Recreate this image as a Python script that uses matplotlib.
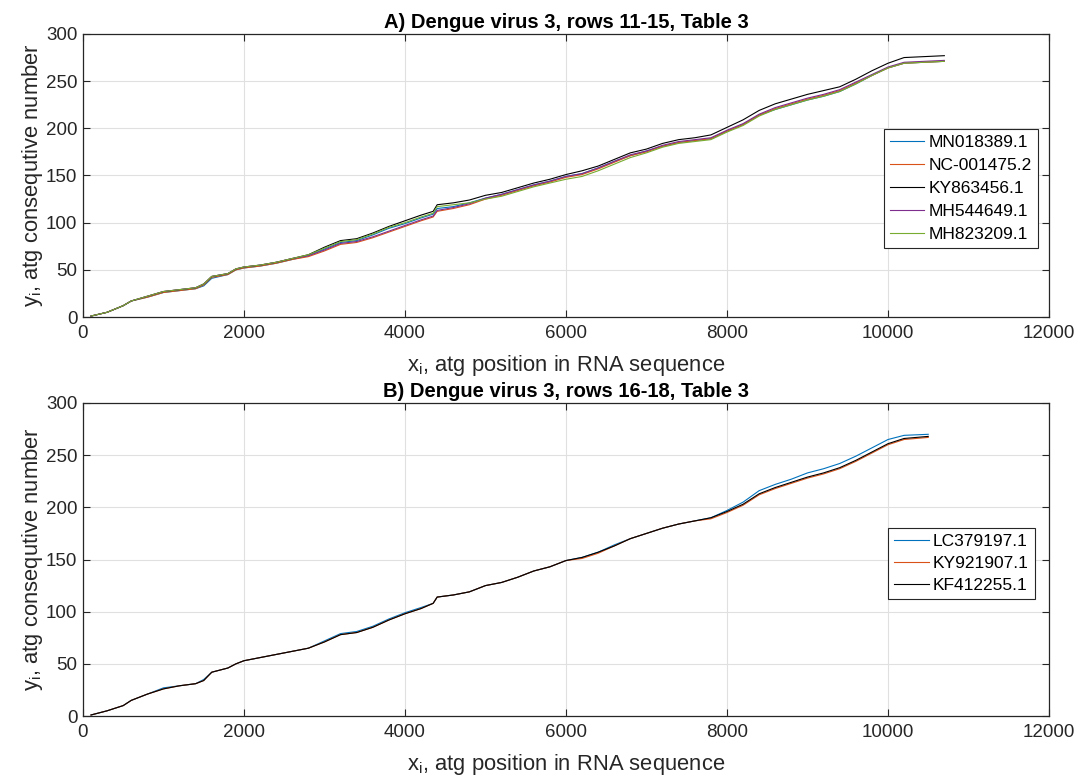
import matplotlib
matplotlib.use("Agg")
import matplotlib.pyplot as plt

plt.rcParams['font.family'] = ['Liberation Sans', 'DejaVu Sans']

# ---------------- Panel A data (knots) ----------------
xa = [100, 300, 500, 600, 800, 1000, 1200, 1400, 1500, 1600, 1800, 1900, 2000,
      2200, 2400, 2600, 2800, 3000, 3200, 3400, 3600, 3800, 4000, 4200, 4350,
      4400, 4600, 4800, 5000, 5200, 5400, 5600, 5800, 6000, 6200, 6400, 6600,
      6800, 7000, 7200, 7400, 7600, 7800, 8000, 8200, 8400, 8600, 8800, 9000,
      9200, 9400, 9600, 9800, 10000, 10200, 10700]
mn018389 = [1, 5, 12, 17, 21, 26, 28, 30, 33, 41, 45, 50, 52, 54, 57, 61, 65, 72,
            79, 81, 87, 94, 99, 105, 109, 115, 117, 121, 126, 130, 135, 140, 144,
            149, 152, 158, 165, 171, 176, 181, 185, 187, 189, 197, 204, 214, 220,
            225, 230, 234, 239, 247, 256, 264, 269, 271]
nc001475 = [1, 5, 12, 17, 21, 26, 28, 30, 34, 42, 45, 50, 52, 54, 57, 61, 64, 70,
            77, 79, 84, 90, 96, 102, 106, 112, 115, 119, 125, 129, 134, 139, 143,
            148, 151, 157, 164, 171, 175, 181, 185, 187, 189, 197, 204, 214, 221,
            226, 231, 235, 240, 248, 256, 264, 269, 271]
ky863456 = [1, 5, 12, 17, 22, 27, 29, 31, 35, 43, 46, 51, 53, 55, 58, 62, 66, 74,
            81, 83, 89, 96, 102, 108, 112, 119, 121, 124, 129, 132, 137, 142, 146,
            151, 155, 160, 167, 174, 178, 184, 188, 190, 193, 201, 209, 219, 226,
            231, 236, 240, 244, 252, 261, 269, 275, 277]
mh544649 = [1, 5, 12, 17, 22, 27, 29, 31, 35, 43, 46, 51, 53, 55, 58, 62, 65, 71,
            78, 80, 85, 91, 97, 103, 107, 113, 116, 120, 126, 130, 135, 140, 144,
            149, 152, 158, 165, 172, 176, 182, 186, 188, 190, 198, 205, 215, 222,
            227, 232, 236, 241, 249, 257, 265, 270, 272]
mh823209 = [1, 5, 12, 17, 22, 27, 29, 31, 35, 43, 46, 51, 53, 55, 58, 62, 66, 73,
            80, 82, 88, 95, 100, 106, 110, 117, 119, 121, 125, 128, 133, 138, 142,
            146, 149, 155, 162, 169, 174, 180, 184, 186, 188, 196, 203, 213, 220,
            225, 230, 234, 239, 247, 256, 264, 269, 271]

# ---------------- Panel B data ----------------
xb = [100, 300, 500, 600, 800, 1000, 1200, 1400, 1500, 1600, 1800, 1900, 2000,
      2200, 2400, 2600, 2800, 3000, 3200, 3400, 3600, 3800, 4000, 4200, 4350,
      4400, 4600, 4800, 5000, 5200, 5400, 5600, 5800, 6000, 6200, 6400, 6600,
      6800, 7000, 7200, 7400, 7600, 7800, 8000, 8200, 8400, 8600, 8800, 9000,
      9200, 9400, 9600, 9800, 10000, 10200, 10500]
lc379197 = [1, 5, 10, 15, 21, 27, 29, 31, 35, 42, 46, 50, 53, 56, 59, 62, 65, 72,
            79, 81, 86, 93, 99, 104, 108, 114, 116, 119, 125, 128, 133, 139, 143,
            149, 152, 157, 164, 170, 175, 180, 184, 187, 190, 197, 205, 216, 222,
            227, 233, 237, 242, 249, 257, 265, 269, 270]
ky921907 = [1, 5, 10, 15, 21, 26, 29, 31, 34, 42, 46, 50, 53, 56, 59, 62, 65, 71,
            78, 80, 85, 92, 98, 103, 108, 114, 116, 119, 125, 128, 133, 139, 143,
            149, 151, 156, 163, 170, 175, 180, 184, 187, 189, 195, 202, 212, 218,
            223, 228, 232, 237, 244, 252, 260, 265, 267]
kf412255 = [1, 5, 10, 15, 21, 26, 29, 31, 34, 42, 46, 50, 53, 56, 59, 62, 65, 71,
            78, 80, 85, 92, 98, 103, 108, 114, 116, 119, 125, 128, 133, 139, 143,
            149, 152, 157, 163, 170, 175, 180, 184, 187, 190, 196, 203, 213, 219,
            224, 229, 233, 238, 245, 253, 261, 266, 268]

labels_a = ['MN018389.1', 'NC-001475.2', 'KY863456.1', 'MH544649.1', 'MH823209.1']
labels_b = ['LC379197.1', 'KY921907.1', 'KF412255.1']
colors_a = ['#0072BD', '#D95319', '#000000', '#7E2F8E', '#77AC30']
colors_b = ['#0072BD', '#D95319', '#000000']

titles = ['A) Dengue virus 3, rows 11-15, Table 3',
          'B) Dengue virus 3, rows 16-18, Table 3']
xticks = [0, 2000, 4000, 6000, 8000, 10000, 12000]
yticks = [0, 50, 100, 150, 200, 250, 300]

fig = plt.figure(figsize=(10.83, 7.81), dpi=100)
axA = fig.add_axes([0.0766, 0.5941, 0.892, 0.3624])
axB = fig.add_axes([0.0766, 0.0832, 0.892, 0.4008])

def style(ax, title):
    ax.set_xlim(0, 12000)
    ax.set_ylim(0, 300)
    ax.set_xticks(xticks)
    ax.set_yticks(yticks)
    ax.grid(True, color='#e0e0e0', linewidth=0.8)
    ax.set_axisbelow(True)
    ax.tick_params(direction='in', top=True, right=True, length=5, pad=4,
                   labelsize=13.5, color='#262626', labelcolor='#262626', width=0.8)
    ax.tick_params(axis='x', pad=6)
    for s in ax.spines.values():
        s.set_color('#262626')
        s.set_linewidth(0.9)
    ax.set_title(title, fontsize=14.5, fontweight='bold', pad=4, color='#000000')
    ax.set_xlabel(r'x$_\mathregular{i}$, atg position in RNA sequence',
                  fontsize=15.8, color='#262626', labelpad=8)
    ax.set_ylabel(r'y$_\mathregular{i}$, atg consequtive number',
                  fontsize=15.8, color='#262626', labelpad=1)

for ys, c, lab in zip([mn018389, nc001475, ky863456, mh544649, mh823209], colors_a, labels_a):
    axA.plot(xa, ys, color=c, linewidth=0.8, label=lab)
for ys, c, lab in zip([lc379197, ky921907, kf412255], colors_b, labels_b):
    axB.plot(xb, ys, color=c, linewidth=0.8, label=lab)

style(axA, titles[0])
style(axB, titles[1])

for ax, anchor, lsp in [(axA, (0.9886, 0.454), 0.45), (axB, (0.9855, 0.487), 0.4)]:
    leg = ax.legend(loc='center right', bbox_to_anchor=anchor, fontsize=12.5,
                    frameon=True, fancybox=False, edgecolor='#262626',
                    framealpha=1, borderpad=0.35, labelspacing=lsp,
                    handlelength=2.0, handletextpad=0.25, borderaxespad=0)
    leg.get_frame().set_linewidth(0.8)

fig.savefig('out.png', dpi=100)
